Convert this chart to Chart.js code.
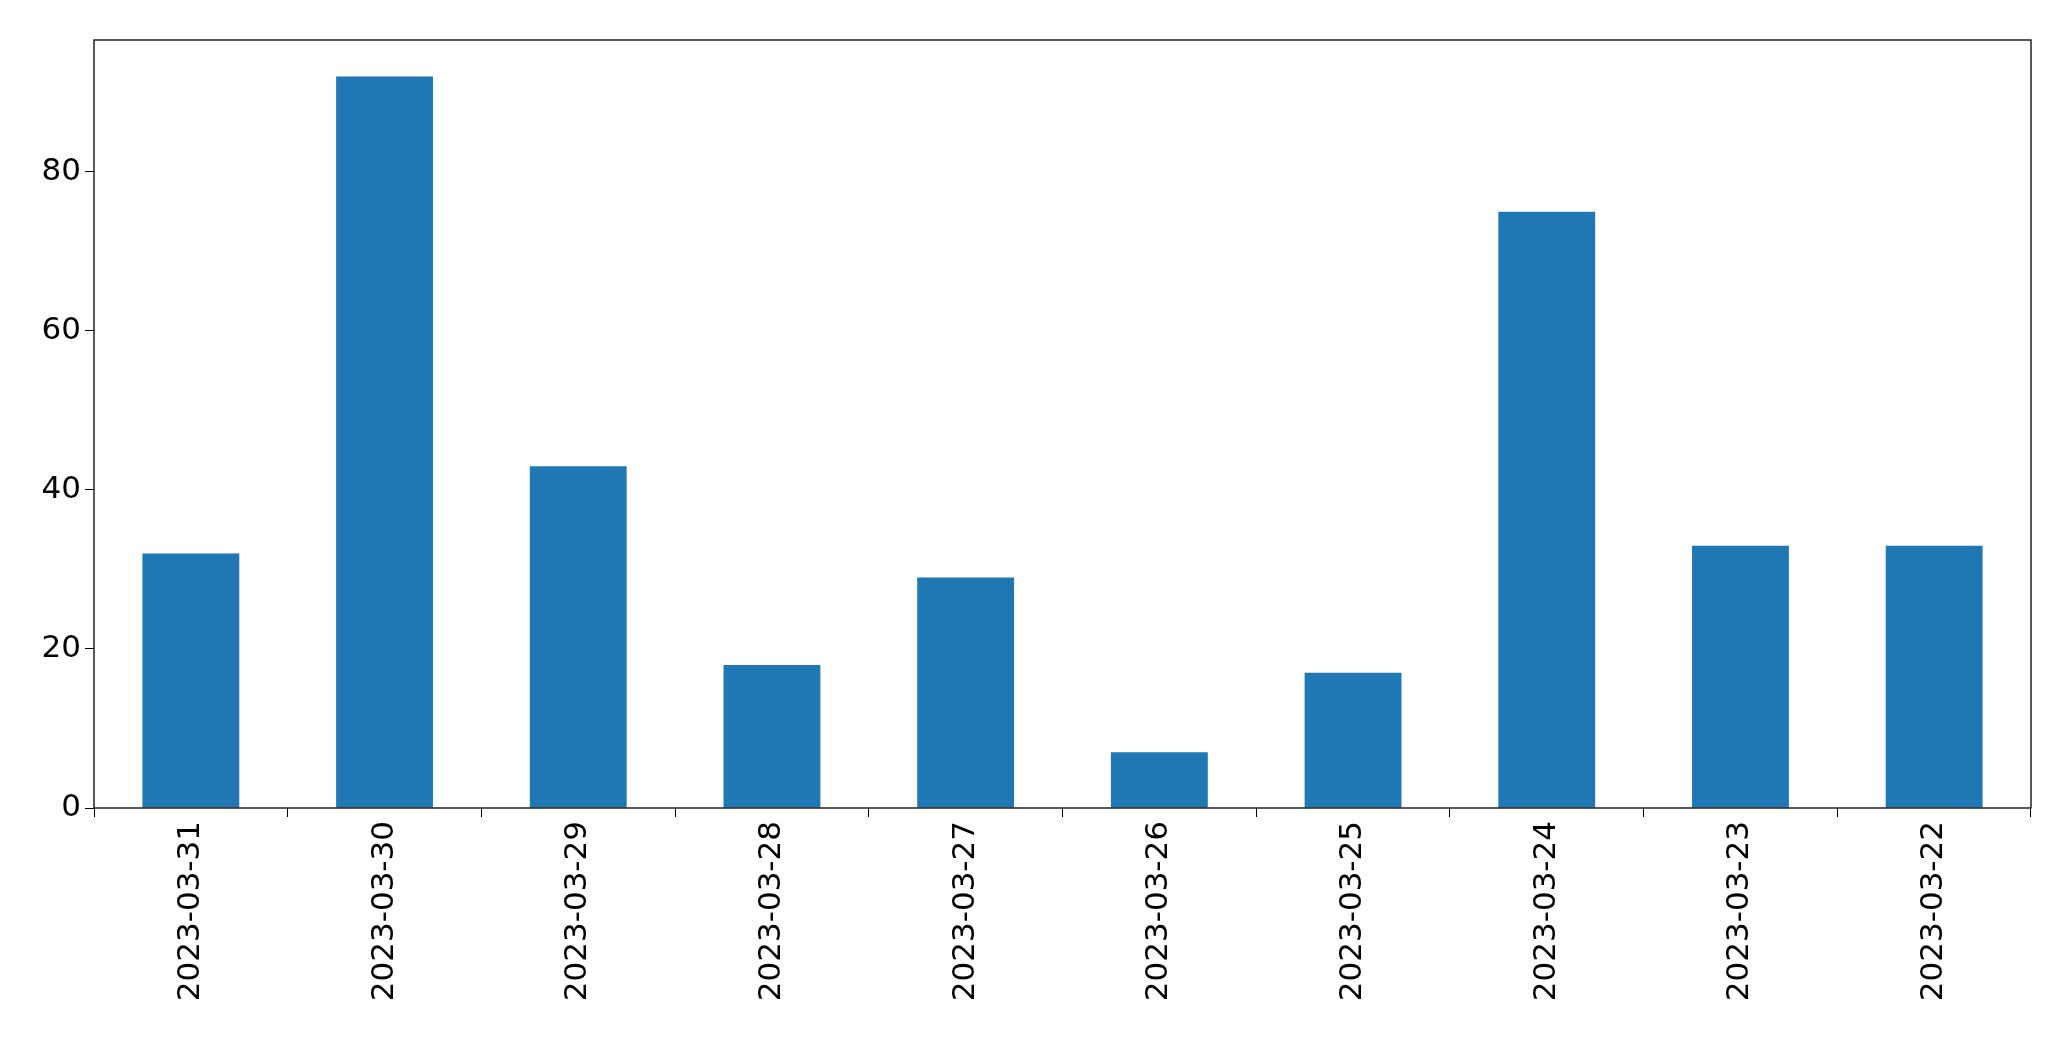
<!DOCTYPE html>
<html><head><meta charset="utf-8">
<script src="https://cdn.jsdelivr.net/npm/chart.js@4/dist/chart.umd.min.js"></script>
<style>html,body{margin:0;padding:0;background:#fff}#c{display:block}</style>
</head><body>
<div style="width:2071px;height:1061px"><canvas id="c"></canvas></div>
<script>
const categories = ["2023-03-31","2023-03-30","2023-03-29","2023-03-28","2023-03-27","2023-03-26","2023-03-25","2023-03-24","2023-03-23","2023-03-22"];
const values = [32, 92, 43, 18, 29, 7, 17, 75, 33, 33];
const yTicks = [0, 20, 40, 60, 80];

const frame = {
  id: 'frame',
  afterDraw(chart) {
    const {ctx, chartArea: a} = chart;
    ctx.save(); ctx.strokeStyle = '#000'; ctx.lineWidth = 1.3;
    ctx.strokeRect(a.left, a.top, a.right - a.left, a.bottom - a.top);
    ctx.restore();
  }
};
Chart.defaults.font.family = "'DejaVu Sans', sans-serif";
new Chart(document.getElementById('c'), {
  type: 'bar',
  data: { labels: categories, datasets: [{ data: values, backgroundColor: '#1f77b4', categoryPercentage: 1, barPercentage: 0.5 }] },
  options: {
    responsive: true, maintainAspectRatio: false, animation: false,
    layout: { padding: { top: 40, right: 40, left: 0, bottom: 0 } },
    plugins: { legend: { display: false }, tooltip: { enabled: false } },
    scales: {
      x: {
        grid: { drawOnChartArea: false, tickLength: 9, color: '#000' },
        border: { display: false },
        ticks: { color: '#000', font: { size: 31 }, minRotation: 90, maxRotation: 90, padding: 4 },
        afterFit(s) { s.height = 253; }
      },
      y: {
        min: 0, max: 96.6,
        afterBuildTicks(s) { s.ticks = yTicks.map(v => ({ value: v })); },
        grid: { drawOnChartArea: false, tickLength: 9, color: '#000' },
        border: { display: false },
        ticks: { color: '#000', font: { size: 31 }, padding: 4 },
        afterFit(s) { s.width = 94; }
      }
    }
  },
  plugins: [frame]
});
</script>
</body></html>
